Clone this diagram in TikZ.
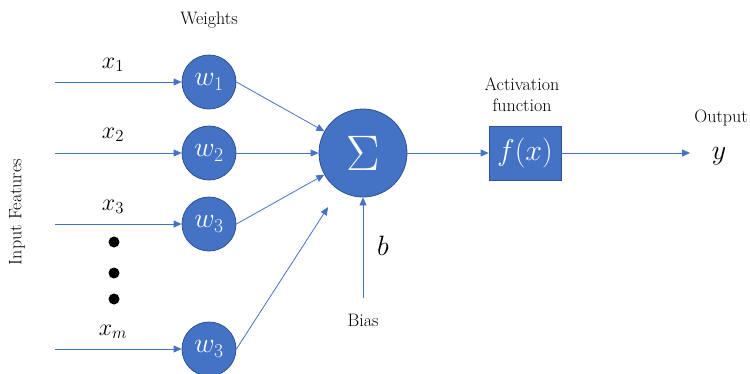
\documentclass[tikz,border=0pt]{standalone}
\usepackage{fix-cm}
\usepackage{fontspec}
\usetikzlibrary{arrows.meta}
\definecolor{nblue}{HTML}{4472C4}
\definecolor{nedge}{HTML}{2F528F}
\begin{document}
\begin{tikzpicture}[x=1pt,y=-1pt,
  wnode/.style={circle,fill=nblue,draw=nedge,line width=0.8pt,minimum size=54pt,inner sep=0pt,text=white,font=\fontsize{28}{28}\selectfont},
  conn/.style={draw=nblue,line width=0.8pt,-{Triangle[length=8pt,width=7pt]}},
  lbl/.style={font=\fontsize{18}{21}\selectfont,align=center},
  mlbl/.style={font=\fontsize{24}{24}\selectfont},
  dot/.style={circle,fill=black,inner sep=0pt,minimum size=11pt}]
\useasboundingbox (0,0) rectangle (750,373);

% weights
\node[wnode] (w1) at (209,82) {$w_1$};
\node[wnode] (w2) at (209,153) {$w_2$};
\node[wnode] (w3) at (209,224) {$w_3$};
\node[wnode] (wm) at (209,349) {$w_3$};

% sum and activation
\node[wnode,minimum size=88pt,font=\fontsize{50}{50}\selectfont] (sum) at (363,153) {$\Sigma$};
\node[fill=nblue,draw=nedge,line width=0.8pt,minimum width=72pt,minimum height=54pt,inner sep=0pt,text=white,font=\fontsize{30}{30}\selectfont] (act) at (525,153) {$f(x)$};

% inputs
\coordinate (in1) at (55,82);
\coordinate (in2) at (55,153);
\coordinate (in3) at (55,224);
\coordinate (inm) at (55,349);
\coordinate (bias) at (363,298);
\coordinate (out) at (690,153);

\node[mlbl] (x1) at (113,65) {$x_1$};
\node[mlbl] (x2) at (113,135) {$x_2$};
\node[mlbl] (x3) at (113,207) {$x_3$};
\node[mlbl] (xm) at (113,332) {$x_m$};
\foreach \y [count=\i] in {242,273,299}
  \node[dot] (dot\i) at (114,\y) {};

\draw[conn] (in1) -- (w1);
\draw[conn] (in2) -- (w2);
\draw[conn] (in3) -- (w3);
\draw[conn] (inm) -- (wm);
\draw[conn] (w1.east) -- (sum);
\draw[conn] (w2.east) -- (sum);
\draw[conn] (w3.east) -- (sum);
\draw[conn,shorten >=20pt] (wm.east) -- (sum);
\draw[conn] (bias) -- (sum);
\draw[conn] (sum) -- (act);
\draw[conn] (act) -- (out);

% text
\node[lbl] (wts) at (209,20) {Weights};
\node[lbl] (actlbl) at (522,95) {Activation\\function};
\node[lbl] (outlbl) at (721,118) {Output};
\node[lbl] (biaslbl) at (363,320) {Bias};
\node[lbl,rotate=90] (feat) at (17,212) {Input Features};
\node[mlbl,font=\fontsize{28}{28}\selectfont] (b) at (383,246) {$b$};
\node[mlbl,font=\fontsize{28}{28}\selectfont] (y) at (719,156) {$y$};
\end{tikzpicture}
\end{document}
